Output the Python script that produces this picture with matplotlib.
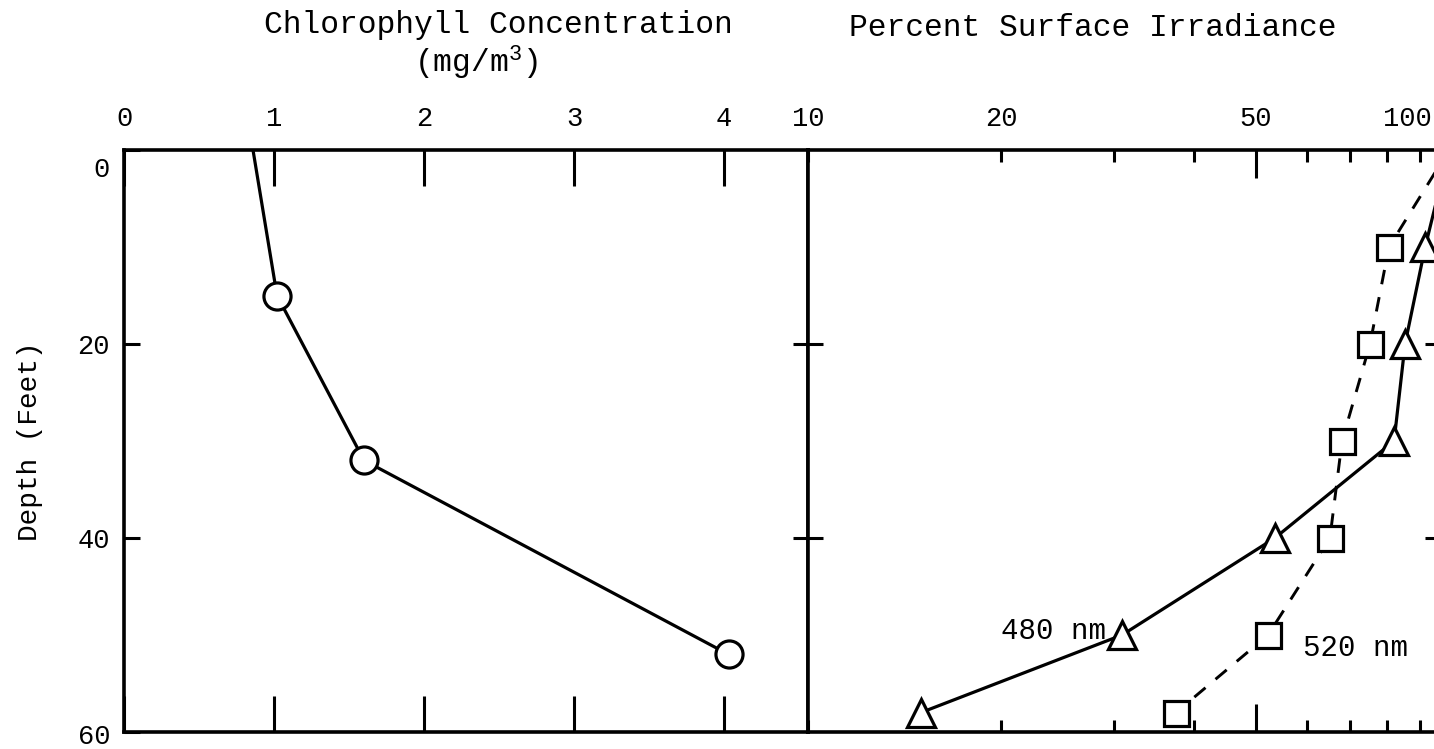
import matplotlib
matplotlib.use('Agg')
import matplotlib.pyplot as plt
from matplotlib.transforms import ScaledTranslation

plt.rcParams['font.family'] = ['Liberation Mono', 'DejaVu Sans']
plt.rcParams['mathtext.fontset'] = 'custom'
plt.rcParams['mathtext.rm'] = 'Liberation Mono'
plt.rcParams['mathtext.it'] = 'Liberation Mono'

# ---------------- data ----------------
chl_depth = [0, 15, 32, 52]
chl_conc = [0.86, 1.02, 1.60, 4.03]

irr_depth = [0, 10, 20, 30, 40, 50, 58]
irr_480 = [100, 91.8, 85.4, 82.1, 53.5, 30.9, 15.0]
irr_520 = [100, 80.6, 75.3, 68.1, 65.2, 52.2, 37.5]

chl_ticks = [0, 1, 2, 3, 4]
chl_tick_labels = ['0', '1', '2', '3', '4']
depth_ticks = [0, 20, 40, 60]
depth_tick_labels = ['0', '20', '40', '60']
irr_major = [50]
irr_major_labels = ['50']
irr_minor = [10, 20, 30, 40, 60, 70, 80, 90, 100]
irr_minor_labels = ['10', '20', '', '', '', '', '', '', '100']

# ---------------- layout ----------------
W, H = 1434, 749
fig = plt.figure(figsize=(W / 100, H / 100), dpi=100)
fig.patch.set_facecolor('white')

x_l, x_mid, x_r = 124, 808, 1449
y_top, y_bot = 150, 732
ax1 = fig.add_axes([x_l / W, (H - y_bot) / H, (x_mid - x_l) / W, (y_bot - y_top) / H])
ax2 = fig.add_axes([x_mid / W, (H - y_bot) / H, (x_r - x_mid) / W, (y_bot - y_top) / H])

LW = 2.3
TW = 2.2
SPW = 2.6
FS_TICK = 19.5
MS = 19.5

# ---------------- left panel ----------------
ax1.plot(chl_conc, chl_depth, color='black', lw=LW, marker='o', ms=MS,
         mfc='white', mec='black', mew=LW, markevery=[1, 2, 3], zorder=3)
ax1.set_xlim(0, 4.56)
ax1.set_ylim(60, 0)
ax1.set_xticks(chl_ticks, labels=chl_tick_labels)
ax1.set_yticks(depth_ticks, labels=depth_tick_labels)
ax1.tick_params(axis='x', which='major', top=True, bottom=True, direction='in',
                length=26, width=TW, labeltop=True, labelbottom=False,
                labelsize=FS_TICK, pad=13)
ax1.tick_params(axis='y', which='major', left=True, right=False, direction='in',
                length=11.5, width=TW, labelsize=FS_TICK, pad=10)
for s in ax1.spines.values():
    s.set_linewidth(SPW)
ax1.set_ylabel('Depth (Feet)', fontsize=20)
ax1.yaxis.set_label_coords(-0.118, 0.5)

# ---------------- right panel ----------------
ax2.set_xscale('log')
ax2.plot(irr_480, irr_depth, color='black', lw=LW, marker='^', ms=MS,
         mfc='white', mec='black', mew=LW, markevery=list(range(1, 7)), zorder=3)
ax2.plot(irr_520, irr_depth, color='black', lw=2.1, ls=(0, (5, 4.5)), marker='s',
         ms=MS - 1.5, mfc='white', mec='black', mew=LW, markevery=list(range(1, 7)),
         zorder=3)
ax2.set_xlim(10, 100)
ax2.set_ylim(60, 0)
ax2.set_xticks(irr_major, labels=irr_major_labels)
ax2.set_xticks(irr_minor, labels=irr_minor_labels, minor=True)
ax2.tick_params(axis='x', which='major', top=True, bottom=True, direction='in',
                length=20, width=TW, labeltop=True, labelbottom=False,
                labelsize=FS_TICK, pad=13)
ax2.tick_params(axis='x', which='minor', top=True, bottom=True, direction='in',
                length=8.5, width=TW, labeltop=True, labelbottom=False,
                labelsize=FS_TICK, pad=13)
ax2.set_yticks([20, 40])
ax2.tick_params(axis='y', which='major', left=True, right=False, direction='inout',
                length=22, width=TW, labelleft=False)
for s in ax2.spines.values():
    s.set_linewidth(SPW)

ax2r = ax2.twinx()
ax2r.set_ylim(60, 0)
ax2r.set_yticks([20, 40])
ax2r.tick_params(axis='y', right=True, direction='in', length=17, width=TW,
                 labelright=False)
for s in ax2r.spines.values():
    s.set_visible(False)

ax2.annotate('480 nm', xy=(irr_480[5], irr_depth[5]), xytext=(-11.5, 3),
             textcoords='offset points', ha='right', va='center', fontsize=21, zorder=2)
ax2.annotate('520 nm', xy=(irr_520[5], irr_depth[5]), xytext=(25, -9.4),
             textcoords='offset points', ha='left', va='center', fontsize=21, zorder=2)

# ---------------- titles ----------------
fig.text(498 / W, 1 - 25 / H, 'Chlorophyll Concentration', ha='center', va='center',
         fontsize=22.5)
fig.text(476 / W, 1 - 63 / H, '(mg/m$^3$)', ha='center', va='center', fontsize=22.5)
fig.text(1093 / W, 1 - 28 / H, 'Percent Surface Irradiance', ha='center', va='center',
         fontsize=22.5)

# ---------------- label nudges (as in the original) ----------------
yt = ax1.yaxis.get_major_ticks()
yt[0].label1.set_transform(yt[0].label1.get_transform()
                           + ScaledTranslation(0, -0.17, fig.dpi_scale_trans))
yt[-1].label1.set_transform(yt[-1].label1.get_transform()
                            + ScaledTranslation(0, -0.025, fig.dpi_scale_trans))
mt = ax2.xaxis.get_minor_ticks()
mt[-1].label2.set_transform(mt[-1].label2.get_transform()
                            + ScaledTranslation(-0.42, 0, fig.dpi_scale_trans))

fig.savefig('out.png', dpi=100)
